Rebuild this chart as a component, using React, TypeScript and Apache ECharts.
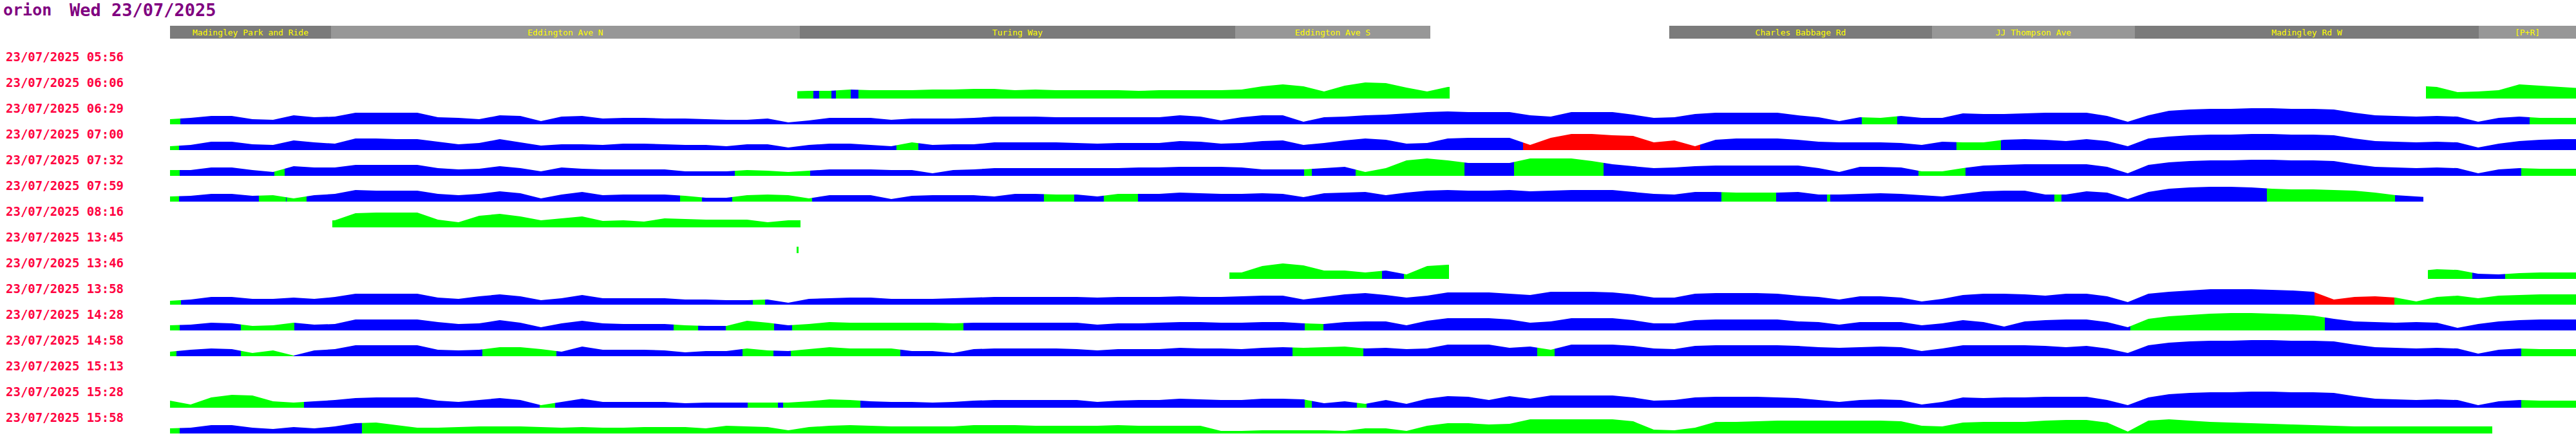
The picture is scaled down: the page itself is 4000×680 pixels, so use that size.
import React, { useEffect, useRef } from "react";
import * as echarts from "echarts";

// ---------- texts ----------
const pageTitle = "orion";
const dateTitle = "Wed 23/07/2025";
const rowLabels = [
  "23/07/2025 05:56", "23/07/2025 06:06", "23/07/2025 06:29", "23/07/2025 07:00",
  "23/07/2025 07:32", "23/07/2025 07:59", "23/07/2025 08:16", "23/07/2025 13:45",
  "23/07/2025 13:46", "23/07/2025 13:58", "23/07/2025 14:28", "23/07/2025 14:58",
  "23/07/2025 15:13", "23/07/2025 15:28", "23/07/2025 15:58",
];

// ---------- route (distance units along the route) ----------
const ROUTE_LEN = 3736;
const SAMPLE_STEP = 32;
const SAMPLE_COUNT = 118;
const stopNames = ["Madingley Park and Ride", "Eddington Ave N", "Turing Way", "Eddington Ave S", "Charles Babbage Rd", "JJ Thompson Ave", "Madingley Rd W", "[P+R]"];
const stopFrom = [0, 250, 978, 1654, 2328, 2736, 3051, 3585];
const stopTo = [250, 978, 1654, 1957, 2736, 3051, 3585, 3736];

// ---------- journeys: profile heights per sample, as runs [firstSample, values] ----------
const runs0606 = [
  [30, [11, 12, 12, 14, 13, 13, 13, 14, 14, 15, 15, 13, 14, 13, 13, 13, 13, 12, 13, 13, 13, 13, 14, 19, 22, 19, 11, 20, 25, 24, 17, 11, 18, 19]],
  [109, [20, 18, 10, 11, 13, 22, 20, 18, 16]],
];
const runs0629 = [[0, [
  8, 10, 13, 13, 8, 7, 14, 11, 12, 18, 18, 18, 18, 11, 10, 8, 14, 13, 5, 12,
  13, 9, 10, 10, 9, 9, 8, 7, 7, 9, 3, 6, 10, 10, 10, 7, 9, 9, 9,
  10, 12, 12, 12, 11, 11, 11, 11, 11, 11, 14, 12, 6, 11, 14, 14, 4, 11, 12, 14,
  15, 17, 19, 20, 19, 19, 19, 14, 12, 19, 19, 19, 15, 10, 11, 16, 18, 18, 18,
  18, 14, 11, 5, 11, 10, 13, 10, 10, 17, 16, 16, 17, 18, 18, 18, 13, 4, 14,
  21, 23, 24, 24, 25, 25, 24, 24, 23, 18, 14, 13, 12, 13, 12, 4, 10, 12, 10, 10, 10]]];
const runs0700 = [[0, [
  6, 8, 13, 13, 9, 8, 15, 12, 10, 18, 18, 17, 17, 13, 9, 11, 17, 12, 7, 9,
  9, 8, 10, 10, 9, 8, 8, 6, 9, 9, 4, 8, 10, 10, 8, 6, 12, 8, 9,
  9, 12, 12, 12, 12, 11, 10, 11, 11, 11, 14, 13, 10, 11, 14, 15, 8, 11, 15, 18,
  16, 10, 11, 18, 19, 19, 19, 8, 19, 25, 25, 23, 22, 12, 15, 6, 16, 18, 18,
  18, 16, 13, 12, 12, 12, 11, 8, 13, 12, 12, 16, 17, 16, 14, 17, 14, 6, 18,
  21, 23, 24, 24, 25, 25, 24, 24, 23, 18, 14, 13, 12, 13, 12, 4, 10, 14, 16, 17, 17]]];
const runs0732 = [[0, [
  9, 9, 13, 13, 9, 6, 15, 13, 13, 17, 17, 17, 17, 12, 10, 11, 15, 12, 7, 13,
  11, 10, 10, 10, 10, 7, 7, 7, 9, 8, 6, 8, 10, 10, 10, 9, 9, 4, 9,
  10, 12, 12, 12, 12, 12, 12, 12, 13, 13, 14, 14, 14, 13, 10, 10, 10, 12, 14, 6,
  12, 24, 27, 24, 20, 20, 20, 27, 27, 27, 23, 18, 15, 12, 13, 15, 16, 16, 16,
  16, 16, 12, 6, 14, 14, 13, 7, 7, 12, 16, 17, 18, 18, 18, 18, 14, 4, 17,
  21, 23, 24, 24, 25, 25, 24, 24, 23, 18, 14, 13, 12, 13, 12, 4, 10, 12, 11, 11, 11]]];
const runs0759 = [[0, [
  8, 9, 12, 12, 9, 10, 5, 10, 12, 18, 17, 17, 17, 12, 10, 12, 16, 13, 5, 11,
  15, 10, 11, 11, 11, 9, 6, 6, 10, 11, 10, 5, 10, 10, 10, 4, 9, 10, 10,
  10, 8, 12, 12, 11, 11, 8, 12, 12, 12, 14, 13, 12, 12, 13, 12, 7, 13, 14, 15,
  10, 14, 17, 18, 17, 17, 18, 16, 17, 18, 18, 18, 15, 12, 11, 15, 15, 14, 14,
  14, 15, 11, 11, 12, 13, 12, 10, 8, 12, 16, 17, 17, 11, 11, 16, 14, 4, 15,
  20, 22, 23, 23, 22, 20, 19, 19, 18, 17, 14, 10, 8, 6]]];
const runs0816 = [[7, [10, 11, 22, 23, 23, 23, 12, 8, 18, 21, 17, 11, 14, 17, 10, 11, 9, 14, 13, 12, 12, 12, 8, 11, 11]]];
const runs1345 = [[30, [10, 10]]];
const runs1346 = [
  [51, [10, 10, 20, 24, 21, 13, 13, 10, 13, 7, 20, 22, 22]],
  [109, [12, 15, 14, 8, 7, 9, 10, 10, 10]],
];
const runs1358 = [[0, [
  6, 8, 12, 12, 9, 9, 11, 9, 12, 17, 17, 17, 17, 11, 9, 13, 16, 13, 7, 10,
  15, 10, 10, 10, 10, 8, 8, 7, 7, 8, 3, 9, 10, 11, 11, 9, 9, 9, 10,
  11, 12, 12, 12, 12, 12, 11, 12, 12, 12, 13, 12, 12, 13, 14, 14, 8, 12, 16, 18,
  15, 11, 14, 19, 19, 19, 17, 15, 20, 20, 20, 19, 16, 11, 11, 17, 18, 18, 18,
  17, 14, 12, 8, 13, 13, 11, 5, 9, 15, 17, 17, 16, 14, 17, 17, 13, 4, 17,
  20, 22, 24, 24, 24, 23, 22, 20, 8, 12, 13, 11, 5, 12, 14, 10, 14, 15, 16, 16, 16]]];
const runs1428 = [[0, [
  8, 9, 12, 11, 7, 8, 12, 9, 10, 17, 17, 17, 17, 13, 10, 11, 16, 12, 5, 11,
  15, 11, 10, 10, 10, 8, 7, 7, 15, 12, 8, 10, 13, 12, 12, 12, 12, 12, 11,
  12, 12, 12, 12, 12, 12, 9, 11, 11, 12, 13, 13, 12, 12, 13, 13, 11, 10, 13, 14,
  14, 8, 15, 19, 19, 19, 17, 12, 14, 19, 19, 19, 16, 11, 11, 16, 17, 17, 17,
  17, 14, 13, 9, 13, 13, 13, 8, 11, 16, 13, 6, 14, 16, 17, 17, 13, 5, 18,
  22, 24, 26, 27, 27, 26, 25, 23, 18, 14, 13, 12, 13, 12, 4, 10, 14, 16, 17, 17, 17]]];
const runs1458 = [[0, [
  7, 10, 12, 11, 5, 9, 1, 9, 11, 17, 17, 17, 17, 10, 9, 10, 14, 14, 11, 7,
  15, 10, 10, 10, 9, 6, 8, 8, 12, 9, 8, 11, 14, 12, 12, 12, 8, 8, 5,
  11, 12, 12, 12, 12, 11, 9, 11, 11, 11, 13, 12, 12, 11, 13, 14, 13, 14, 15, 12,
  13, 11, 12, 18, 18, 18, 13, 15, 10, 18, 18, 18, 16, 12, 11, 16, 17, 17, 17,
  17, 16, 14, 13, 14, 15, 14, 8, 12, 17, 17, 17, 17, 16, 14, 16, 12, 5, 17,
  21, 23, 24, 24, 25, 25, 24, 24, 23, 18, 14, 13, 12, 13, 12, 4, 10, 12, 11, 11, 11]]];
const runs1528 = [[0, [
  11, 5, 16, 20, 19, 10, 8, 10, 12, 15, 16, 16, 16, 11, 9, 12, 15, 12, 4, 9,
  14, 9, 9, 9, 9, 7, 8, 8, 8, 8, 8, 10, 13, 12, 10, 9, 9, 8, 9,
  11, 12, 12, 12, 12, 12, 9, 11, 12, 12, 14, 13, 12, 12, 14, 14, 13, 7, 10, 6,
  12, 6, 14, 18, 17, 12, 18, 14, 19, 19, 19, 19, 16, 11, 12, 16, 17, 17, 17,
  16, 15, 12, 9, 12, 13, 12, 5, 9, 16, 15, 16, 16, 17, 17, 17, 12, 4, 16,
  21, 23, 24, 24, 25, 25, 24, 24, 23, 18, 14, 13, 12, 13, 12, 4, 10, 12, 11, 11, 11]]];
const runs1558 = [[0, [
  8, 9, 13, 13, 9, 7, 10, 8, 11, 16, 17, 13, 9, 9, 10, 11, 11, 11, 10, 9,
  10, 9, 9, 10, 10, 10, 8, 12, 11, 10, 5, 10, 12, 13, 12, 11, 11, 11, 11,
  13, 13, 13, 12, 12, 12, 12, 13, 12, 12, 12, 12, 4, 4, 5, 5, 5, 5, 4, 8,
  8, 4, 12, 16, 16, 14, 15, 22, 22, 22, 22, 22, 19, 6, 5, 9, 18, 18, 19,
  20, 20, 20, 20, 20, 20, 19, 12, 11, 17, 18, 18, 18, 20, 21, 21, 17, 3, 20,
  22, 20, 18, 17, 16, 15, 14, 13, 12, 11, 11, 11, 11, 11, 11, 11, 11]]];

// ---------- journeys: state along the route [from, to, state] ----------
const seg0606 = [[974, 999, "G"], [999, 1008, "B"], [1008, 1027, "G"], [1027, 1034, "B"], [1034, 1057, "G"], [1057, 1069, "B"], [1069, 1987, "G"], [3503, 3736, "G"]];
const seg0629 = [[0, 16, "G"], [16, 2627, "B"], [2627, 2682, "G"], [2682, 3664, "B"], [3664, 3736, "G"]];
const seg0700 = [[0, 14, "G"], [14, 1128, "B"], [1128, 1162, "G"], [1162, 2101, "B"], [2101, 2376, "R"], [2376, 2774, "B"], [2774, 2843, "G"], [2843, 3736, "B"]];
const seg0732 = [[0, 15, "G"], [15, 162, "B"], [162, 178, "G"], [178, 877, "B"], [877, 994, "G"], [994, 1761, "B"], [1761, 1773, "G"], [1773, 1841, "B"], [1841, 2010, "G"], [2010, 2087, "B"], [2087, 2226, "G"], [2226, 2715, "B"], [2715, 2788, "G"], [2788, 3651, "B"], [3651, 3736, "G"]];
const seg0759 = [[0, 14, "G"], [14, 138, "B"], [138, 180, "G"], [180, 181, "B"], [181, 212, "G"], [212, 792, "B"], [792, 826, "G"], [826, 873, "B"], [873, 997, "G"], [997, 1357, "B"], [1357, 1404, "G"], [1404, 1450, "B"], [1450, 1503, "G"], [1503, 2409, "B"], [2409, 2494, "G"], [2494, 2573, "B"], [2573, 2578, "G"], [2578, 2926, "B"], [2926, 2937, "G"], [2937, 3256, "B"], [3256, 3455, "G"], [3455, 3499, "B"]];
const seg0816 = [[252, 979, "G"]];
const seg1345 = [[973, 976, "G"]];
const seg1346 = [[1645, 1882, "G"], [1882, 1916, "B"], [1916, 1986, "G"], [3506, 3575, "G"], [3575, 3626, "B"], [3626, 3736, "G"]];
const seg1358 = [[0, 17, "G"], [17, 905, "B"], [905, 924, "G"], [924, 3330, "B"], [3330, 3454, "R"], [3454, 3736, "G"]];
const seg1428 = [[0, 15, "G"], [15, 110, "B"], [110, 193, "G"], [193, 782, "B"], [782, 820, "G"], [820, 863, "B"], [863, 938, "G"], [938, 966, "B"], [966, 1232, "G"], [1232, 1762, "B"], [1762, 1791, "G"], [1791, 3044, "B"], [3044, 3346, "G"], [3346, 3736, "B"]];
const seg1458 = [[0, 10, "G"], [10, 110, "B"], [110, 192, "G"], [192, 485, "B"], [485, 600, "G"], [600, 889, "B"], [889, 937, "G"], [937, 964, "B"], [964, 1134, "G"], [1134, 1743, "B"], [1743, 1853, "G"], [1853, 2123, "B"], [2123, 2150, "G"], [2150, 3651, "B"], [3651, 3736, "G"]];
const seg1528 = [[0, 208, "G"], [208, 574, "B"], [574, 598, "G"], [598, 897, "B"], [897, 944, "G"], [944, 952, "B"], [952, 1072, "G"], [1072, 1762, "B"], [1762, 1773, "G"], [1773, 1843, "B"], [1843, 1858, "G"], [1858, 3651, "B"], [3651, 3736, "G"]];
const seg1558 = [[0, 15, "G"], [15, 298, "B"], [298, 3606, "G"]];

const STATE_COLORS: Record<string, string> = { G: "#00ff00", B: "#0000ff", R: "#ff0000" };

// row index -> journey data
const journeys: { row: number; runs: any[]; segs: any[] }[] = [
  { row: 1, runs: runs0606, segs: seg0606 },
  { row: 2, runs: runs0629, segs: seg0629 },
  { row: 3, runs: runs0700, segs: seg0700 },
  { row: 4, runs: runs0732, segs: seg0732 },
  { row: 5, runs: runs0759, segs: seg0759 },
  { row: 6, runs: runs0816, segs: seg0816 },
  { row: 7, runs: runs1345, segs: seg1345 },
  { row: 8, runs: runs1346, segs: seg1346 },
  { row: 9, runs: runs1358, segs: seg1358 },
  { row: 10, runs: runs1428, segs: seg1428 },
  { row: 11, runs: runs1458, segs: seg1458 },
  { row: 13, runs: runs1528, segs: seg1528 },
  { row: 14, runs: runs1558, segs: seg1558 },
];

// ---------- layout ----------
const PLOT_LEFT = 264;
const ROW_FIRST_BASE = 113;
const ROW_PITCH = 40;
const PROFILE_H = 30;
const FONT = '"DejaVu Sans Mono", monospace';

function buildData(runs: any[]) {
  const vals: any[] = new Array(SAMPLE_COUNT).fill("-");
  runs.forEach(([k0, hs]: [number, number[]]) => hs.forEach((h, j) => { vals[k0 + j] = h; }));
  return vals.map((h, k) => [k * SAMPLE_STEP, h]);
}

export default function App() {
  const ref = useRef<HTMLDivElement>(null);
  useEffect(() => {
    if (!ref.current) return;
    const chart = echarts.init(ref.current, undefined, { renderer: "svg" });

    const grids: any[] = [{ left: PLOT_LEFT, top: 40, width: ROUTE_LEN, height: 20 }];
    const xAxes: any[] = [{ gridIndex: 0, type: "value", min: 0, max: ROUTE_LEN, show: false }];
    const yAxes: any[] = [{ gridIndex: 0, type: "value", min: 0, max: 1, show: false }];
    const series: any[] = [
      {
        type: "custom",
        xAxisIndex: 0,
        yAxisIndex: 0,
        silent: true,
        data: stopNames.map((_, i) => [stopFrom[i], stopTo[i]]),
        renderItem: (params: any, api: any) => {
          const a = api.coord([api.value(0), 0]);
          const b = api.coord([api.value(1), 0]);
          const cs = params.coordSys;
          const i = params.dataIndex;
          return {
            type: "group",
            children: [
              { type: "rect", shape: { x: a[0], y: cs.y, width: b[0] - a[0], height: cs.height }, style: { fill: i % 2 ? "#979797" : "#7b7b7b" } },
              { type: "text", x: (a[0] + b[0]) / 2, y: cs.y + cs.height / 2, style: { text: stopNames[i], fill: "#ffff00", font: `13px ${FONT}`, align: "center", verticalAlign: "middle" } },
            ],
          };
        },
      },
    ];
    const visualMaps: any[] = [];

    journeys.forEach((j, idx) => {
      const gi = idx + 1;
      const base = ROW_FIRST_BASE + ROW_PITCH * j.row;
      grids.push({ left: PLOT_LEFT, top: base - PROFILE_H, width: ROUTE_LEN, height: PROFILE_H });
      xAxes.push({ gridIndex: gi, type: "value", min: 0, max: ROUTE_LEN, show: false });
      yAxes.push({ gridIndex: gi, type: "value", min: 0, max: PROFILE_H, show: false });
      series.push({
        type: "line",
        xAxisIndex: gi,
        yAxisIndex: gi,
        data: buildData(j.runs),
        showSymbol: false,
        symbol: "none",
        silent: true,
        lineStyle: { width: 0, opacity: 0 },
        areaStyle: { opacity: 1 },
        connectNulls: false,
      });
      visualMaps.push({
        type: "piecewise",
        show: false,
        dimension: 0,
        seriesIndex: series.length - 1,
        pieces: j.segs.map(([a, b, s]: [number, number, string]) => ({ gte: a, lt: b, color: STATE_COLORS[s] })),
        outOfRange: { color: "rgba(0,0,0,0)" },
      });
    });

    const graphics: any[] = [
      { type: "text", x: 5, y: 15, style: { text: pageTitle, fill: "#800080", font: `bold 25px ${FONT}`, verticalAlign: "middle" } },
      { type: "text", x: 108, y: 15, style: { text: dateTitle, fill: "#800080", font: `bold 27px ${FONT}`, verticalAlign: "middle" } },
      ...rowLabels.map((t, i) => ({
        type: "text", x: 9, y: 88 + ROW_PITCH * i,
        style: { text: t, fill: "#ff0040", font: `bold 19px ${FONT}`, verticalAlign: "middle" },
      })),
    ];

    chart.setOption({
      animation: false,
      backgroundColor: "#ffffff",
      grid: grids,
      xAxis: xAxes,
      yAxis: yAxes,
      visualMap: visualMaps,
      series,
      graphic: graphics,
    });
    return () => chart.dispose();
  }, []);
  return <div ref={ref} style={{ position: "fixed", left: 0, top: 0, width: 4000, height: 680 }} />;
}
